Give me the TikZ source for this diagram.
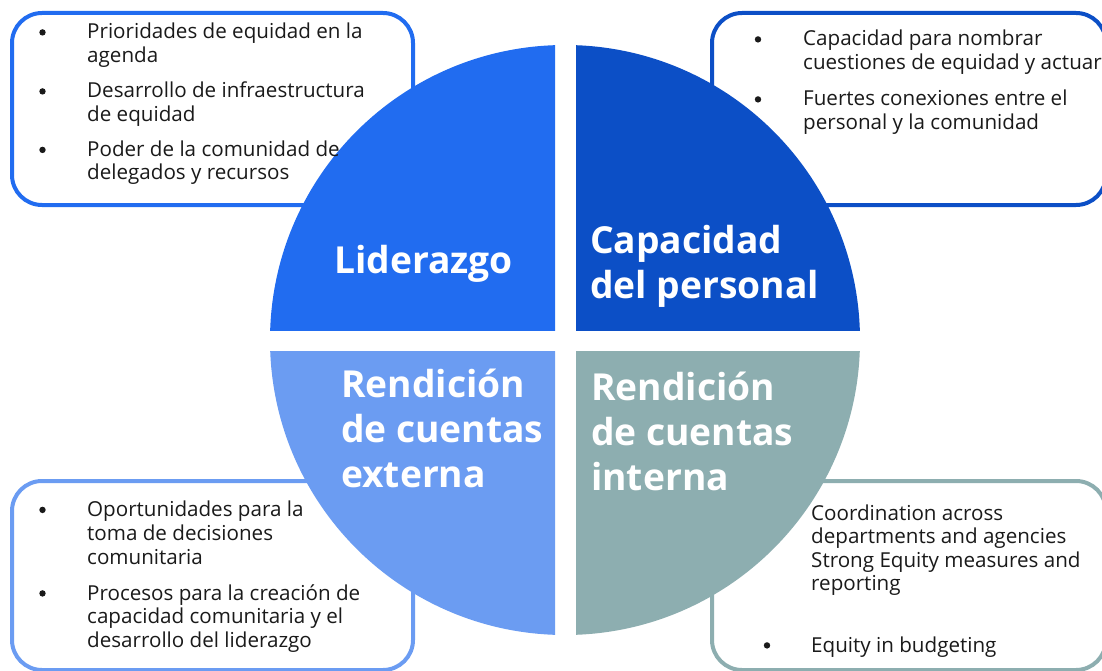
\documentclass[tikz,border=0pt]{standalone}
\usepackage{fontspec}
\setmainfont{Open Sans}
\definecolor{cA}{HTML}{216CF0}
\definecolor{cB}{HTML}{0C4FC6}
\definecolor{cC}{HTML}{6B9CF2}
\definecolor{cD}{HTML}{8DAEB0}
\definecolor{tx}{HTML}{1A1A1A}
\tikzset{
  boxframe/.style={draw=#1, line width=4pt, fill=white, rounded corners=30pt},
  txt/.style={anchor=base west, inner sep=0pt, text=tx, font=\fontsize{20.6}{23}\selectfont},
  bul/.style={circle, fill=tx, inner sep=0pt, minimum size=6.4pt, yshift=6.6pt},
  lbl/.style={anchor=base west, inner sep=0pt, text=white, font=\bfseries\fontsize{37.2}{45}\selectfont}
}
\begin{document}
\begin{tikzpicture}[x=1pt,y=-1pt]
\useasboundingbox (0,0) rectangle (1102,671);
% boxes
\draw[boxframe=cA] (12,13) rectangle (413,205);
\draw[boxframe=cB] (712,13) rectangle (1106,205);
\draw[boxframe=cC] (12,481) rectangle (413,670);
\draw[boxframe=cD] (712,481) rectangle (1106,670);
% quadrants
\begin{scope}\clip (0,0) rectangle (555,330); \fill[cA] (565,340) circle (295); \end{scope}
\begin{scope}\clip (576,0) rectangle (1102,330); \fill[cB] (565,340) circle (295); \end{scope}
\begin{scope}\clip (0,351) rectangle (555,671); \fill[cC] (565,340) circle (295); \end{scope}
\begin{scope}\clip (576,351) rectangle (1102,671); \fill[cD] (565,340) circle (295); \end{scope}
% labels
\node[lbl] (l1) at (334,273) {Liderazgo};
\node[lbl] (l2a) at (590,253) {Capacidad};
\node[lbl] (l2b) at (590,298) {del personal};
\node[lbl] (l3a) at (341,397) {Rendición};
\node[lbl] (l3b) at (341,442) {de cuentas};
\node[lbl] (l3c) at (341,487) {externa};
\node[lbl] (l4a) at (591,400) {Rendición};
\node[lbl] (l4b) at (591,445) {de cuentas};
\node[lbl] (l4c) at (591,490) {interna};
% top-left box text
\node[bul] (b11) at (42.5,39) {};
\node[txt] (t11) at (87,39) {Prioridades de equidad en la};
\node[txt] (t12) at (87,62.5) {agenda};
\node[bul] (b12) at (42.5,98) {};
\node[txt] (t13) at (87,98) {Desarrollo de infraestructura};
\node[txt] (t14) at (87,121.5) {de equidad};
\node[bul] (b13) at (42.5,156.5) {};
\node[txt] (t15) at (87,156.5) {Poder de la comunidad de};
\node[txt] (t16) at (87,180) {delegados y recursos};
% top-right box text
\node[bul] (b21) at (758,46) {};
\node[txt] (t21) at (803,46) {Capacidad para nombrar};
\node[txt] (t22) at (803,69.5) {cuestiones de equidad y actuar};
\node[bul] (b22) at (758,106) {};
\node[txt] (t23) at (803,106) {Fuertes conexiones entre el};
\node[txt] (t24) at (803,129.5) {personal y la comunidad};
% bottom-left box text
\node[bul] (b31) at (42.5,516.5) {};
\node[txt] (t31) at (87,516.5) {Oportunidades para la};
\node[txt] (t32) at (87,540.5) {toma de decisiones};
\node[txt] (t33) at (87,564.5) {comunitaria};
\node[bul] (b32) at (42.5,600) {};
\node[txt] (t34) at (87,600) {Procesos para la creación de};
\node[txt] (t35) at (87,623.5) {capacidad comunitaria y el};
\node[txt] (t36) at (87,647) {desarrollo del liderazgo};
% bottom-right box text
\node[txt] (t41) at (811,520) {Coordination across};
\node[txt] (t42) at (811,543.5) {departments and agencies};
\node[txt] (t43) at (811,567) {Strong Equity measures and};
\node[txt] (t44) at (811,590.5) {reporting};
\node[bul] (b41) at (767,652) {};
\node[txt] (t45) at (811,652) {Equity in budgeting};
\end{tikzpicture}
\end{document}
